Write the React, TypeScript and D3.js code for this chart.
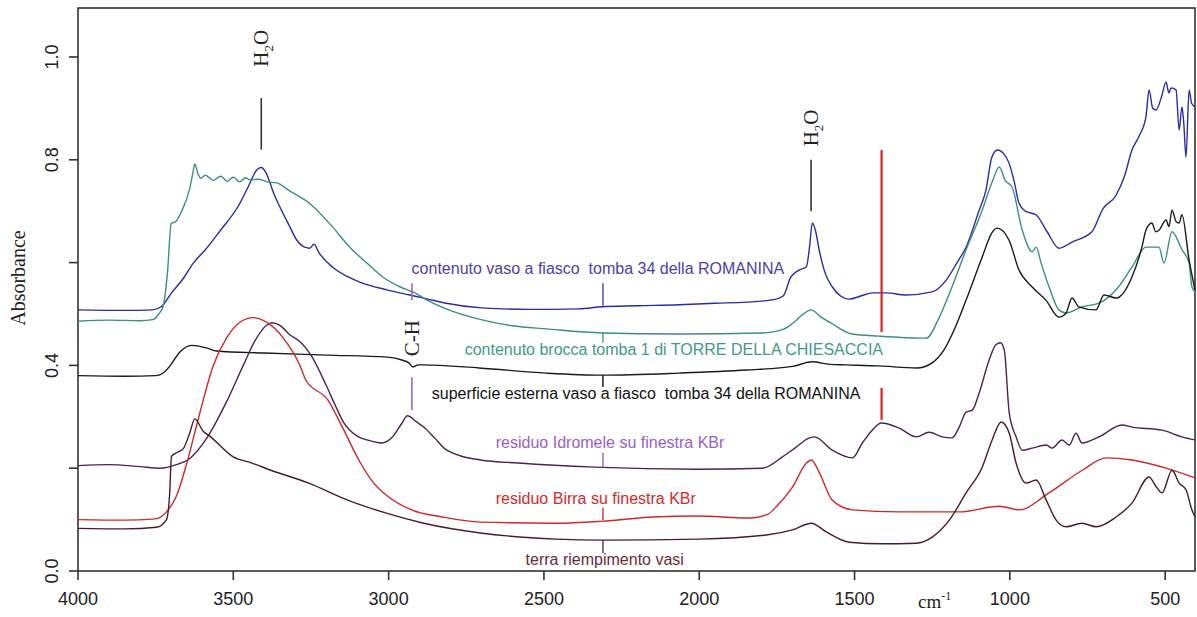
import React, { useEffect, useRef } from "react";
import * as d3 from "d3";

// wavenumber (cm-1), absorbance
const vasoRomanina = [
  [4000, 0.508], [3850, 0.507], [3760, 0.508], [3730, 0.515], [3700, 0.54], [3660, 0.57],
  [3630, 0.598], [3590, 0.625], [3545, 0.66], [3480, 0.714], [3450, 0.75], [3425, 0.78],
  [3410, 0.785], [3395, 0.775], [3370, 0.735], [3350, 0.708], [3320, 0.672], [3296, 0.644],
  [3270, 0.63], [3254, 0.628], [3240, 0.636], [3225, 0.62], [3180, 0.591], [3130, 0.572],
  [3093, 0.562], [3006, 0.547], [2932, 0.537], [2880, 0.53], [2815, 0.521], [2700, 0.512],
  [2550, 0.509], [2387, 0.51], [2313, 0.514], [2200, 0.516], [2065, 0.518], [1950, 0.521],
  [1849, 0.523], [1760, 0.528], [1730, 0.535], [1705, 0.572], [1680, 0.585], [1655, 0.592],
  [1645, 0.63], [1636, 0.677], [1625, 0.66], [1614, 0.625], [1595, 0.58], [1572, 0.553],
  [1545, 0.535], [1517, 0.529], [1480, 0.535], [1443, 0.541], [1398, 0.541], [1334, 0.537],
  [1250, 0.543], [1205, 0.566], [1170, 0.6], [1141, 0.63], [1100, 0.7], [1077, 0.741],
  [1058, 0.805], [1040, 0.819], [1020, 0.812], [1003, 0.794], [985, 0.755], [971, 0.716],
  [950, 0.7], [916, 0.693], [880, 0.66], [842, 0.628], [800, 0.64], [736, 0.66],
  [700, 0.705], [659, 0.73], [630, 0.77], [607, 0.819], [585, 0.845], [562, 0.883],
  [552, 0.936], [540, 0.9], [529, 0.897], [513, 0.92], [497, 0.951], [488, 0.93],
  [481, 0.94], [465, 0.936], [455, 0.858], [446, 0.903], [440, 0.87], [433, 0.805],
  [423, 0.936], [415, 0.91], [404, 0.903],
];

const broccaChiesaccia = [
  [4000, 0.486], [3900, 0.488], [3800, 0.487], [3760, 0.489], [3740, 0.5], [3726, 0.515],
  [3712, 0.58], [3700, 0.676], [3685, 0.68], [3667, 0.699], [3640, 0.745], [3630, 0.775],
  [3624, 0.792], [3615, 0.775], [3605, 0.764], [3590, 0.77], [3565, 0.76], [3540, 0.768],
  [3520, 0.758], [3500, 0.766], [3480, 0.757], [3460, 0.765], [3447, 0.761], [3420, 0.762],
  [3390, 0.757], [3360, 0.755], [3320, 0.74], [3286, 0.728], [3260, 0.718], [3231, 0.702],
  [3180, 0.669], [3125, 0.63], [3070, 0.599], [3019, 0.572], [2964, 0.553], [2922, 0.543],
  [2870, 0.525], [2815, 0.51], [2709, 0.49], [2601, 0.477], [2492, 0.471], [2313, 0.463],
  [2065, 0.461], [1798, 0.463], [1730, 0.47], [1701, 0.481], [1665, 0.5], [1640, 0.508],
  [1610, 0.495], [1572, 0.481], [1508, 0.461], [1421, 0.457], [1269, 0.453], [1227, 0.494],
  [1186, 0.553], [1141, 0.625], [1089, 0.702], [1055, 0.76], [1034, 0.786], [1015, 0.76],
  [993, 0.747], [960, 0.663], [928, 0.621], [915, 0.63], [900, 0.6], [874, 0.553],
  [842, 0.508], [819, 0.502], [768, 0.514], [713, 0.521], [658, 0.547], [607, 0.591],
  [562, 0.63], [540, 0.63], [520, 0.63], [504, 0.599], [478, 0.66], [446, 0.625],
  [423, 0.599], [414, 0.553], [404, 0.543],
];

const superficieRomanina = [
  [4000, 0.38], [3850, 0.379], [3750, 0.38], [3720, 0.388], [3704, 0.399], [3672, 0.426],
  [3634, 0.439], [3586, 0.434], [3554, 0.428], [3400, 0.424], [3200, 0.42], [3003, 0.416],
  [2955, 0.41], [2935, 0.405], [2922, 0.397], [2905, 0.401], [2890, 0.401], [2709, 0.395],
  [2492, 0.385], [2313, 0.381], [2065, 0.385], [1849, 0.391], [1700, 0.398], [1636, 0.407],
  [1580, 0.402], [1527, 0.401], [1421, 0.399], [1300, 0.395], [1250, 0.405], [1212, 0.43],
  [1175, 0.475], [1141, 0.527], [1089, 0.611], [1058, 0.658], [1041, 0.667], [1003, 0.644],
  [971, 0.586], [929, 0.553], [884, 0.527], [842, 0.494], [819, 0.502], [800, 0.531],
  [778, 0.514], [723, 0.508], [697, 0.537], [658, 0.531], [607, 0.572], [575, 0.63],
  [562, 0.663], [543, 0.677], [530, 0.66], [520, 0.663], [497, 0.683], [488, 0.67],
  [478, 0.702], [465, 0.68], [455, 0.677], [446, 0.693], [423, 0.605], [404, 0.547],
];

const idromele = [
  [4000, 0.205], [3900, 0.207], [3800, 0.203], [3737, 0.2], [3683, 0.207], [3640, 0.219],
  [3586, 0.258], [3522, 0.329], [3468, 0.4], [3430, 0.448], [3393, 0.478], [3376, 0.483],
  [3350, 0.478], [3317, 0.459], [3285, 0.446], [3250, 0.42], [3200, 0.36], [3170, 0.32],
  [3144, 0.288], [3100, 0.262], [3070, 0.255], [3022, 0.249], [2987, 0.261], [2960, 0.285],
  [2939, 0.302], [2910, 0.29], [2887, 0.28], [2852, 0.259], [2813, 0.235], [2704, 0.216],
  [2582, 0.21], [2337, 0.202], [2009, 0.198], [1797, 0.2], [1732, 0.222], [1690, 0.24],
  [1645, 0.259], [1629, 0.261], [1572, 0.235], [1507, 0.22], [1475, 0.249], [1443, 0.274],
  [1414, 0.288], [1356, 0.278], [1301, 0.261], [1260, 0.27], [1218, 0.261], [1186, 0.259],
  [1163, 0.28], [1141, 0.309], [1121, 0.313], [1099, 0.346], [1067, 0.41], [1045, 0.44],
  [1030, 0.444], [1018, 0.43], [1002, 0.307], [980, 0.261], [960, 0.235], [928, 0.239],
  [883, 0.245], [864, 0.239], [832, 0.255], [809, 0.245], [787, 0.268], [768, 0.249],
  [713, 0.261], [639, 0.284], [607, 0.28], [510, 0.274], [446, 0.261], [404, 0.255],
];

const birra = [
  [4000, 0.1], [3850, 0.099], [3760, 0.101], [3737, 0.104], [3715, 0.115], [3683, 0.146],
  [3651, 0.207], [3608, 0.307], [3565, 0.399], [3522, 0.453], [3479, 0.484], [3436, 0.493],
  [3393, 0.484], [3339, 0.453], [3285, 0.399], [3267, 0.372], [3196, 0.333], [3144, 0.274],
  [3096, 0.216], [3048, 0.171], [3000, 0.144], [2926, 0.119], [2826, 0.105], [2704, 0.095],
  [2459, 0.093], [2311, 0.097], [2150, 0.105], [2009, 0.107], [1839, 0.103], [1780, 0.11],
  [1752, 0.125], [1700, 0.163], [1655, 0.21], [1639, 0.216], [1613, 0.191], [1572, 0.138],
  [1507, 0.119], [1356, 0.115], [1163, 0.115], [1034, 0.126], [970, 0.119], [874, 0.152],
  [767, 0.196], [690, 0.22], [607, 0.216], [497, 0.2], [404, 0.181],
];

const terraVasi = [
  [4000, 0.083], [3850, 0.082], [3747, 0.085], [3715, 0.1], [3705, 0.15], [3699, 0.223],
  [3683, 0.23], [3661, 0.238], [3640, 0.269], [3624, 0.296], [3597, 0.272], [3575, 0.262],
  [3500, 0.222], [3440, 0.21], [3379, 0.196], [3257, 0.171], [3132, 0.138], [3010, 0.113],
  [2887, 0.093], [2704, 0.074], [2459, 0.062], [2311, 0.06], [2000, 0.062], [1784, 0.07],
  [1700, 0.08], [1639, 0.093], [1591, 0.076], [1517, 0.056], [1411, 0.053], [1301, 0.054],
  [1250, 0.066], [1195, 0.099], [1141, 0.152], [1089, 0.202], [1057, 0.255], [1028, 0.29],
  [1002, 0.268], [980, 0.21], [948, 0.171], [915, 0.177], [883, 0.138], [851, 0.099],
  [819, 0.086], [768, 0.093], [722, 0.086], [658, 0.105], [607, 0.132], [552, 0.183],
  [530, 0.165], [510, 0.152], [478, 0.196], [455, 0.171], [433, 0.158], [414, 0.119],
  [404, 0.105],
];

const seriesNames = [
  "contenuto vaso a fiasco  tomba 34 della ROMANINA",
  "contenuto brocca tomba 1 di TORRE DELLA CHIESACCIA",
  "superficie esterna vaso a fiasco  tomba 34 della ROMANINA",
  "residuo Idromele su finestra KBr",
  "residuo Birra su finestra KBr",
  "terra riempimento vasi",
];
const seriesData = [vasoRomanina, broccaChiesaccia, superficieRomanina, idromele, birra, terraVasi];

const xTicks = [4000, 3500, 3000, 2500, 2000, 1500, 1000, 500];
const yTicks = [0, 0.2, 0.4, 0.6, 0.8, 1.0];
const yTickLabels = ["0.0", "", "0.4", "", "0.8", "1.0"];

const lineColors = ["#2b2ba6", "#3a8f7f", "#1a1a1a", "#4b2350", "#d02828", "#4a1a28"];
const textColors = ["#4b3fa8", "#3f9a87", "#111111", "#9a60c8", "#d42a2a", "#6b2a38"];

// label anchor: [start wavenumber, baseline absorbance], tick on label: [wn, from, to]
const labelAnchors = [[2926, 0.578], [2755, 0.42], [2861, 0.334], [2655, 0.24], [2655, 0.131], [2559, 0.012]];
const labelTicks = [[2310, 0.56, 0.514], [2310, 0.465, 0.444], [2310, 0.381, 0.358], [2310, 0.23, 0.202], [2310, 0.123, 0.099], [2310, 0.06, 0.035]];

const App = () => {
  const svgRef = useRef(null);

  useEffect(() => {
    const width = 1197;
    const height = 617;
    const sans = "'Liberation Sans', Arial, sans-serif";
    const serif = "'Liberation Serif', 'Times New Roman', serif";

    const svg = d3.select(svgRef.current).attr("width", width).attr("height", height);
    svg.selectAll("*").remove();
    svg.append("rect").attr("width", width).attr("height", height).attr("fill", "#fff");

    const x = d3.scaleLinear().domain([4000, 404]).range([78, 1195]);
    const y = d3.scaleLinear().domain([0, 1.0953]).range([571, 8]);

    // frame
    svg.append("rect")
      .attr("x", x(4000)).attr("y", y(1.0953))
      .attr("width", x(404) - x(4000)).attr("height", y(0) - y(1.0953))
      .attr("fill", "none").attr("stroke", "#333").attr("stroke-width", 1.6);

    // x axis
    xTicks.forEach((t) => {
      svg.append("line").attr("x1", x(t)).attr("x2", x(t)).attr("y1", y(0)).attr("y2", y(0) + 9)
        .attr("stroke", "#333").attr("stroke-width", 1.6);
      svg.append("text").attr("x", x(t)).attr("y", y(0) + 34).attr("text-anchor", "middle")
        .style("font-family", sans).style("font-size", "18px").attr("fill", "#222").text(t);
    });
    const cm = svg.append("text").attr("x", 918).attr("y", y(0) + 37)
      .style("font-family", serif).style("font-size", "19px").attr("fill", "#222");
    cm.append("tspan").text("cm");
    cm.append("tspan").attr("dy", -8).style("font-size", "12px").text("-1");

    // y axis
    yTicks.forEach((t, i) => {
      svg.append("line").attr("x1", x(4000) - 9).attr("x2", x(4000)).attr("y1", y(t)).attr("y2", y(t))
        .attr("stroke", "#333").attr("stroke-width", 1.6);
      if (yTickLabels[i]) {
        svg.append("text").attr("transform", `translate(${x(4000) - 20},${y(t)}) rotate(-90)`)
          .attr("text-anchor", "middle")
          .style("font-family", sans).style("font-size", "18px").attr("fill", "#222").text(yTickLabels[i]);
      }
    });
    svg.append("text").attr("transform", `translate(25,${y(0.57)}) rotate(-90)`)
      .attr("text-anchor", "middle").style("font-family", serif).style("font-size", "20px")
      .attr("fill", "#222").text("Absorbance");

    // spectra
    const line = d3.line().x((d) => x(d[0])).y((d) => y(d[1])).curve(d3.curveMonotoneX);
    seriesData.forEach((s, i) => {
      svg.append("path").attr("d", line(s)).attr("fill", "none")
        .attr("stroke", lineColors[i]).attr("stroke-width", 1.4).attr("stroke-linejoin", "round");
    });

    // annotations
    const vline = (wn, a, b, color, w = 1.6) =>
      svg.append("line").attr("x1", x(wn)).attr("x2", x(wn)).attr("y1", y(a)).attr("y2", y(b))
        .attr("stroke", color).attr("stroke-width", w);

    const rotLabel = (wn, a, parts) => {
      const t = svg.append("text").attr("transform", `translate(${x(wn) + 7},${y(a)}) rotate(-90)`)
        .attr("text-anchor", "middle").style("font-family", serif).style("font-size", "21px").attr("fill", "#222");
      parts.forEach(([txt, sub]) => {
        const sp = t.append("tspan").text(txt);
        if (sub) sp.attr("dy", 5).style("font-size", "13px");
        else if (txt !== parts[0][0]) sp.attr("dy", -5);
      });
    };

    vline(3410, 0.82, 0.92, "#333");
    rotLabel(3410, 1.017, [["H"], ["2", true], ["O"]]);
    vline(1640, 0.7, 0.8, "#333");
    rotLabel(1640, 0.862, [["H"], ["2", true], ["O"]]);
    vline(2925, 0.527, 0.56, "#9966cc");
    vline(2925, 0.313, 0.377, "#9966cc");
    rotLabel(2925, 0.453, [["C-H"]]);
    vline(1413, 0.465, 0.819, "#e02020", 2.2);
    vline(1413, 0.294, 0.356, "#e02020", 2.2);

    // series labels
    seriesNames.forEach((name, i) => {
      const [wn, a] = labelAnchors[i];
      svg.append("text").attr("x", x(wn)).attr("y", y(a))
        .style("font-family", sans).style("font-size", "16px").style("white-space", "pre")
        .attr("fill", textColors[i]).text(name);
      const [tw, t1, t2] = labelTicks[i];
      vline(tw, t1, t2, textColors[i], 1.4);
    });
  }, []);

  return (
    <div style={{ position: "absolute", left: 0, top: 0 }}>
      <svg ref={svgRef}></svg>
    </div>
  );
};

export default App;
